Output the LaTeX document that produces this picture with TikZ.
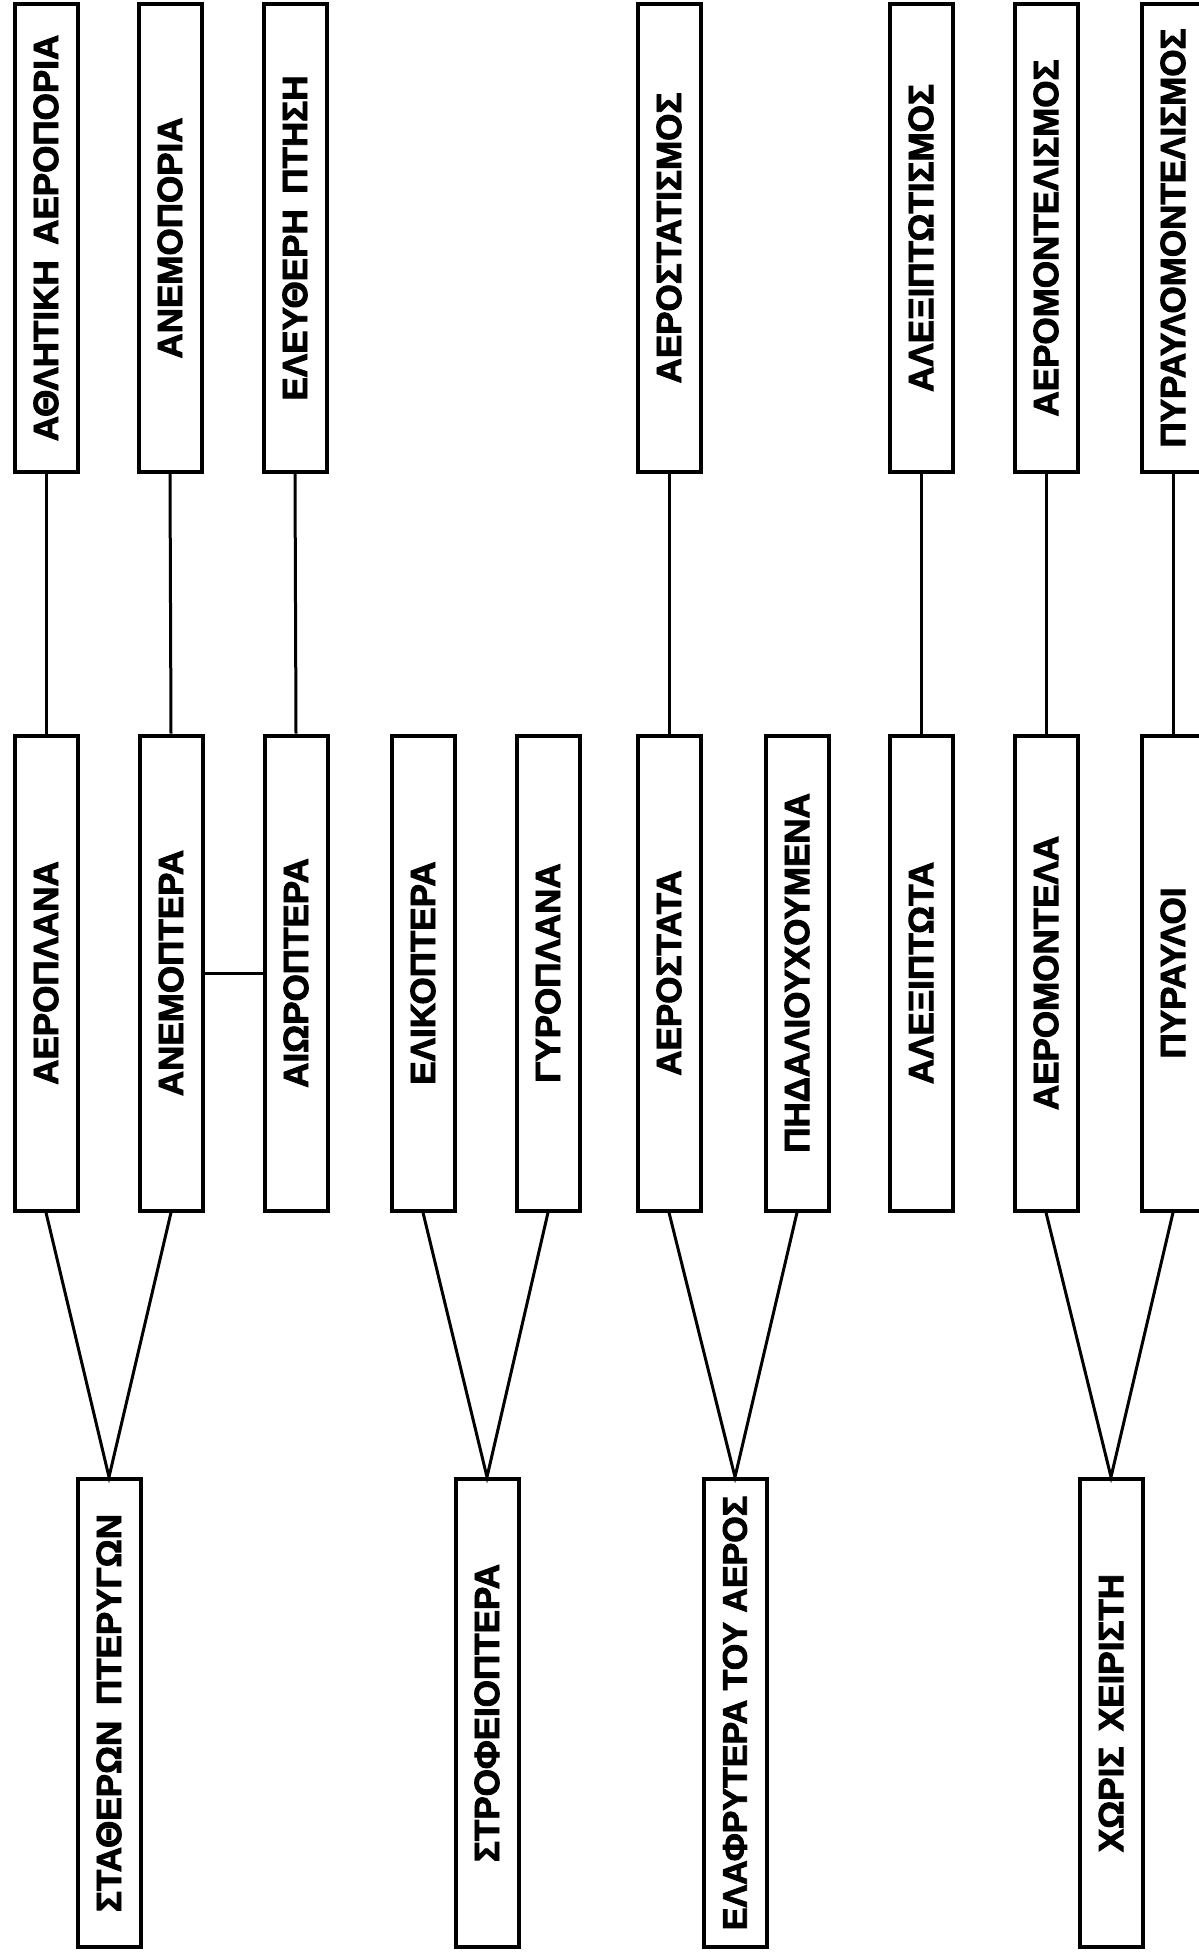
\documentclass[tikz,border=0pt]{standalone}
\usepackage{fontspec}
\newfontfamily\boxfont{Liberation Sans Bold}[FakeBold=2.5]
\usetikzlibrary{positioning}

\begin{document}
\begin{tikzpicture}[x=0.5pt, y=-0.5pt,
    box/.style={draw, line width=2pt, rotate=90, inner sep=0pt,
        minimum height=31.5pt, font=\boxfont\fontsize{17.5}{20}\selectfont},
    sportbox/.style={box, minimum width=234pt},
    craftbox/.style={box, minimum width=237.5pt},
    groupbox/.style={box, minimum width=234pt},
    link/.style={line width=1.5pt}]
    \useasboundingbox (0,0) rectangle (1198,1957);

    % Sports (top row)
    \node [sportbox] (athl) at (46,238) {ΑΘΛΗΤΙΚΗ\, ΑΕΡΟΠΟΡΙΑ};
    \node [sportbox] (anemop) at (170,238) {ΑΝΕΜΟΠΟΡΙΑ};
    \node [sportbox] (eleuth) at (295,238) {ΕΛΕΥΘΕΡΗ\, ΠΤΗΣΗ};
    \node [sportbox] (aerostism) at (669,238) {ΑΕΡΟΣΤΑΤΙΣΜΟΣ};
    \node [sportbox] (alexism) at (921,238) {ΑΛΕΞΙΠΤΩΤΙΣΜΟΣ};
    \node [sportbox] (aeromodism) at (1046,238) {ΑΕΡΟΜΟΝΤΕΛΙΣΜΟΣ};
    \node [sportbox] (pyrmodism) at (1173,238) {ΠΥΡΑΥΛΟΜΟΝΤΕΛΙΣΜΟΣ};

    % Aircraft (middle row)
    \node [craftbox] (aeroplana) at (46,973) {ΑΕΡΟΠΛΑΝΑ};
    \node [craftbox] (anemoptera) at (171,973) {ΑΝΕΜΟΠΤΕΡΑ};
    \node [craftbox] (aioroptera) at (296,973) {ΑΙΩΡΟΠΤΕΡΑ};
    \node [craftbox] (elikoptera) at (423,973) {ΕΛΙΚΟΠΤΕΡΑ};
    \node [craftbox] (gyroplana) at (548,973) {ΓΥΡΟΠΛΑΝΑ};
    \node [craftbox] (aerostata) at (669,973) {ΑΕΡΟΣΤΑΤΑ};
    \node [craftbox] (pidalio) at (797,973) {ΠΗΔΑΛΙΟΥΧΟΥΜΕΝΑ};
    \node [craftbox] (alexiptota) at (921,973) {ΑΛΕΞΙΠΤΩΤΑ};
    \node [craftbox] (aeromontela) at (1046,973) {ΑΕΡΟΜΟΝΤΕΛΑ};
    \node [craftbox] (pyrayloi) at (1173,973) {ΠΥΡΑΥΛΟΙ};

    % Groups (bottom row)
    \node [groupbox] (stathera) at (109,1713) {ΣΤΑΘΕΡΩΝ\, ΠΤΕΡΥΓΩΝ};
    \node [groupbox] (strofeio) at (487,1713) {ΣΤΡΟΦΕΙΟΠΤΕΡΑ};
    \node [groupbox, font=\boxfont\fontsize{17}{20}\selectfont] (elafryt) at (735,1713) {ΕΛΑΦΡΥΤΕΡΑ ΤΟΥ ΑΕΡΟΣ};
    \node [groupbox] (xoris) at (1111,1713) {ΧΩΡΙΣ\, ΧΕΙΡΙΣΤΗ};

    % Groups to aircraft
    \draw [link] (aeroplana.west) -- (stathera.east) -- (anemoptera.west);
    \draw [link] (elikoptera.west) -- (strofeio.east) -- (gyroplana.west);
    \draw [link] (aerostata.west) -- (elafryt.east) -- (pidalio.west);
    \draw [link] (aeromontela.west) -- (xoris.east) -- (pyrayloi.west);
    \draw [link] (anemoptera.south) -- (aioroptera.north);

    % Aircraft to sports
    \draw [link] (aeroplana.east) -- (athl.west);
    \draw [link] (anemoptera.east) -- (anemop.west);
    \draw [link] (aioroptera.east) -- (eleuth.west);
    \draw [link] (aerostata.east) -- (aerostism.west);
    \draw [link] (alexiptota.east) -- (alexism.west);
    \draw [link] (aeromontela.east) -- (aeromodism.west);
    \draw [link] (pyrayloi.east) -- (pyrmodism.west);
\end{tikzpicture}
\end{document}
